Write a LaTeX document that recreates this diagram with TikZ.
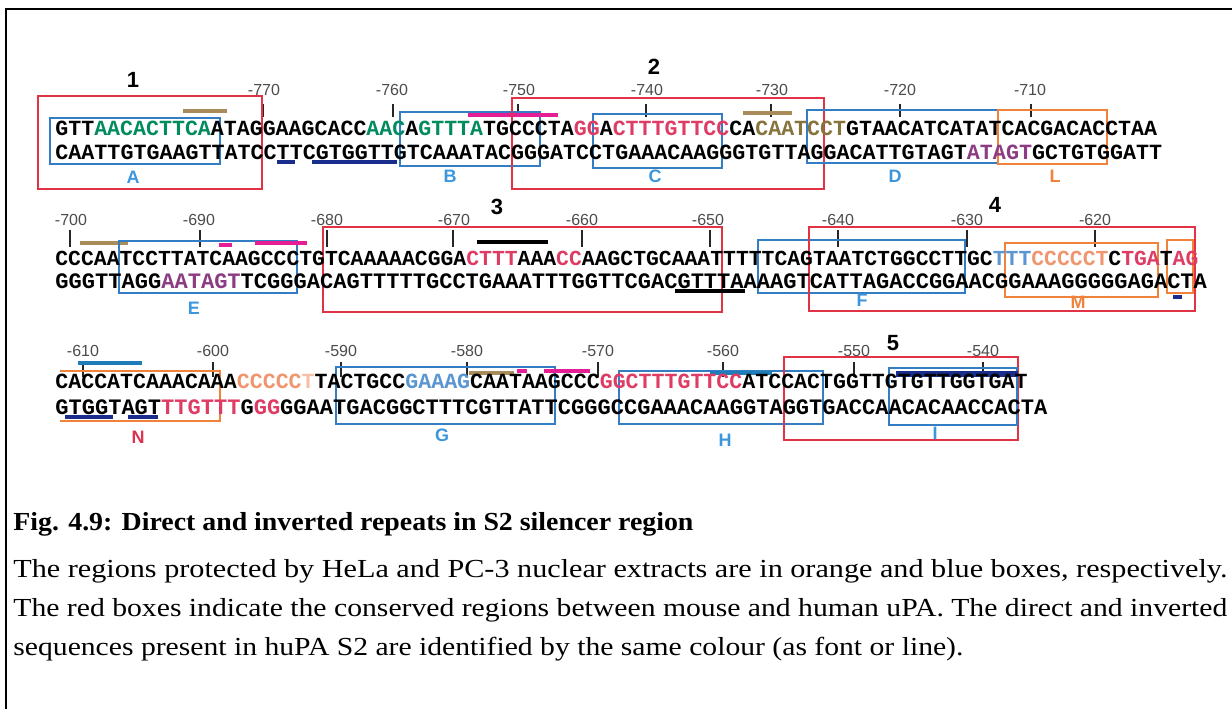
\documentclass[tikz,border=0pt]{standalone}
\usepackage{graphicx}
\usepackage{fontspec}
\setmainfont{Liberation Serif}
\newfontfamily\seqfont{Liberation Mono}
\newfontfamily\labfont{Liberation Sans}
\definecolor{cred}{RGB}{226,50,70}
\definecolor{cblue}{RGB}{50,125,195}
\definecolor{clabblue}{RGB}{60,150,220}
\definecolor{corange}{RGB}{240,130,60}
\definecolor{cgreen}{RGB}{0,140,95}
\definecolor{cpink}{RGB}{222,60,100}
\definecolor{colive}{RGB}{135,115,60}
\definecolor{ctan}{RGB}{170,140,90}
\definecolor{cmag}{RGB}{230,30,150}
\definecolor{cnavy}{RGB}{25,45,140}
\definecolor{csteel}{RGB}{30,125,185}
\definecolor{cpurple}{RGB}{140,60,130}
\definecolor{csalmon}{RGB}{240,150,110}
\definecolor{cltblue}{RGB}{90,150,210}
\definecolor{ccrimson}{RGB}{220,50,80}
\newcommand\ugreen[1]{\textcolor{cgreen}{#1}}
\newcommand\upink[1]{\textcolor{cpink}{#1}}
\newcommand\uolive[1]{\textcolor{colive}{#1}}
\newcommand\upurple[1]{\textcolor{cpurple}{#1}}
\newcommand\usalmon[1]{\textcolor{csalmon}{#1}}
\newcommand\ultblue[1]{\textcolor{cltblue}{#1}}
\newcommand\ufaint[1]{\textcolor{csalmon!60}{#1}}
\begin{document}
\begin{tikzpicture}[x=0.5pt,y=-0.5pt,
  seq/.style={inner sep=0pt, anchor=base west, font=\seqfont\bfseries\fontsize{#1pt}{12pt}\selectfont},
  poslab/.style={font=\labfont\fontsize{8pt}{9pt}\selectfont, text=black!70, inner sep=0pt},
  tickmark/.style={line width=1.3pt, draw=black!85},
  rbox/.style={draw=cred, line width=1.1pt},
  bbox/.style={draw=cblue, line width=1.1pt},
  obox/.style={draw=corange, line width=1.1pt},
  bar/.style={line width=2.4pt},
  boxlab/.style={font=\labfont\bfseries\fontsize{9pt}{10pt}\selectfont, inner sep=0pt, text=clabblue},
  numlab/.style={font=\labfont\bfseries\fontsize{11pt}{12pt}\selectfont, inner sep=0pt},
  captext/.style={inner sep=0pt, anchor=base west, font=\fontsize{13pt}{15pt}\selectfont},
  capbold/.style={inner sep=0pt, anchor=base west, font=\bfseries\fontsize{13pt}{15pt}\selectfont}
]
\useasboundingbox (0,0) rectangle (1232,709);
\fill[white] (0,0) rectangle (1232,709);
% frame
\draw[line width=1pt] (6,709) -- (6,9) -- (1232,9);

% ---------------- Row 1 ----------------
\node[numlab] (n1) at (133,80) {1};
\node[numlab] (n2) at (654,67) {2};
\foreach \x/\l in {264/-770,392/-760,519/-750,647/-740,772/-730,900/-720,1030/-710}
  \node[poslab] at (\x,90) {\l};
\foreach \x in {263,393,518,646,771,900,1031}
  \draw[tickmark] (\x,104) -- (\x,117);
\draw[rbox] (38,96) rectangle (262,189);
\draw[bbox] (50,118) rectangle (220,164);
\node[boxlab] (lA) at (133,177) {A};
\draw[bar, ctan] (183,111) -- (227,111);
\draw[bar, cnavy] (277,162) -- (295,162);
\draw[bar, cnavy] (312,162) -- (397,162);
\draw[bbox] (400,112) rectangle (540,166);
\node[boxlab] (lB) at (450,176) {B};
\draw[bar, cmag] (468,115) -- (558,115);
\draw[rbox] (512,98) rectangle (824,189);
\draw[bbox] (593,114) rectangle (722,168);
\node[boxlab] (lC) at (655,176) {C};
\draw[bar, ctan] (743,113) -- (792,113);
\draw[bbox] (807,110) rectangle (998,163);
\node[boxlab] (lD) at (895,176) {D};
\draw[obox] (998,110) rectangle (1107,164);
\node[boxlab, text=corange] (lL) at (1055,176) {L};
\node[seq=10.8] (r1t) at (55,135) {GTT\ugreen{AACACTTCA}ATAGGAAGCACC\ugreen{AAC}A\ugreen{GTTTA}TGCCCTA\upink{GG}A\upink{CTTTGTTCC}CA\uolive{CAATCCT}GTAACATCATATCACGACACCTAA};
\node[seq=10.85] (r1b) at (55,159) {CAATTGTGAAGTTATCCTTCGTGGTTGTCAAATACGGGATCCTGAAACAAGGGTGTTAGGACATTGTAGT\upurple{ATAGT}GCTGTGGATT};

% ---------------- Row 2 ----------------
\node[numlab] (n3) at (497,207) {3};
\node[numlab] (n4) at (995,205) {4};
\foreach \x/\l in {71/-700,199/-690,327/-680,454/-670,582/-660,708/-650,838/-640,967/-630,1095/-620}
  \node[poslab] at (\x,220) {\l};
\foreach \x in {70,200,327,453,582,710,838,967,1095}
  \draw[tickmark] (\x,230) -- (\x,247);
\draw[bar, ctan] (80,243) -- (128,243);
\draw[bbox] (119,241) rectangle (297,293);
\node[boxlab] (lE) at (194,308) {E};
\draw[bar, cmag] (219,245) -- (232,245);
\draw[bar, cmag] (255,243) -- (307,243);
\draw[rbox] (323,227) rectangle (722,312);
\draw[bar, black] (477,242) -- (548,242);
\draw[bar, black] (675,291) -- (745,291);
\draw[bbox] (758,240) rectangle (965,293);
\node[boxlab] (lF) at (862,300) {F};
\draw[rbox] (809,227) rectangle (1195,311);
\draw[obox] (1005,243) rectangle (1158,297);
\node[boxlab, text=corange] (lM) at (1078,302) {M};
\draw[obox] (1167,240) rectangle (1193,293);
\draw[bar, cnavy] (1173,297) -- (1182,297);
\node[seq=10.7] (r2t) at (55,265) {CCCAATCCTTATCAAGCCCTGTCAAAAACGGA\upink{CTTT}AAA\upink{CC}AAGCTGCAAATTTTTCAGTAATCTGGCCTTGC\ultblue{TTT}\usalmon{CCCCCT}C\upink{TGA}T\upink{AG}};
\node[seq=11.03] (r2b) at (55,288) {GGGTTAGG\upurple{AATAGT}TCGGGACAGTTTTTGCCTGAAATTTGGTTCGACGTTTAAAAGTCATTAGACCGGAACGGAAAGGGGGAGACTA};

% ---------------- Row 3 ----------------
\node[numlab] (n5) at (893,343) {5};
\foreach \x/\l in {83/-610,213/-600,341/-590,467/-580,598/-570,723/-560,854/-550,983/-540}
  \node[poslab] at (\x,351) {\l};
\foreach \x in {83,213,341,467,598,723,854,983}
  \draw[tickmark] (\x,362) -- (\x,377);
\draw[corange, line width=1.1pt] (60,371) -- (220,371) -- (220,421) -- (60,421);
\draw[bar, csteel] (78,363) -- (142,363);
\draw[bar, cnavy] (65,417) -- (113,417);
\draw[bar, cnavy] (128,417) -- (158,417);
\node[boxlab, text=ccrimson] (lN) at (138,437) {N};
\draw[bbox] (336,367) rectangle (555,424);
\node[boxlab] (lG) at (442,435) {G};
\draw[bar, ctan] (469,373) -- (514,373);
\draw[bar, cmag] (517,371) -- (527,371);
\draw[bar, cmag] (544,371) -- (590,371);
\draw[bbox] (619,371) rectangle (823,424);
\node[boxlab] (lH) at (725,440) {H};
\draw[bar, csteel] (710,373) -- (772,373);
\draw[rbox] (784,357) rectangle (1018,440);
\draw[bbox] (889,368) rectangle (1017,425);
\node[boxlab] (lI) at (935,433) {I};
\draw[line width=3pt, cnavy] (896,374) -- (1018,374);
\node[seq=10.8] (r3t) at (55,388) {CACCATCAAACAAA\usalmon{CCCCC}\ufaint{T}TACTGCC\ultblue{GAAAG}CAATAAGCCC\upink{GGCTTTGTTCC}ATCCACTGGTTGTGTTGGTGAT};
\node[seq=11.02] (r3b) at (55,414) {GTGGTAGT\upink{TTGTTT}G\upink{GG}GGAATGACGGCTTTCGTTATTCGGGCCGAAACAAGGTAGGTGACCAACACAACCACTA};

% ---------------- Caption ----------------
\node[capbold] (cap1) at (13,530) {\resizebox{340pt}{\height}{Fig. 4.9: Direct and inverted repeats in S2 silencer region}};
\node[captext] (cap2) at (13,577) {\resizebox{607pt}{\height}{The regions protected by HeLa and PC-3 nuclear extracts are in orange and blue boxes, respectively.}};
\node[captext] (cap3) at (13,616) {\resizebox{607pt}{\height}{The red boxes indicate the conserved regions between mouse and human uPA. The direct and inverted}};
\node[captext] (cap4) at (13,655) {\resizebox{475pt}{\height}{sequences present in huPA S2 are identified by the same colour (as font or line).}};
\end{tikzpicture}
\end{document}
